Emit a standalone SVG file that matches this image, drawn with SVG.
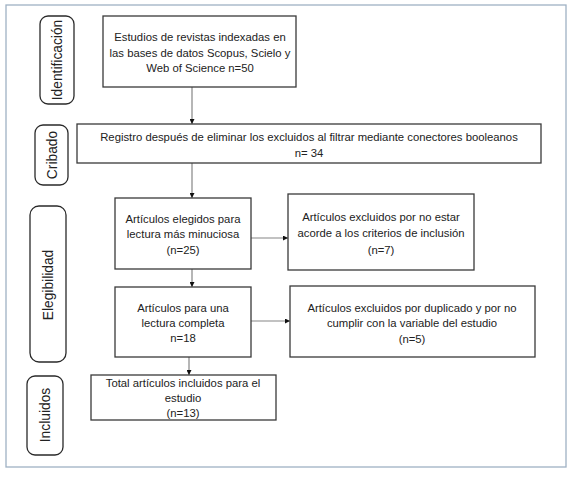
<svg xmlns="http://www.w3.org/2000/svg" width="571" height="482" viewBox="0 0 571 482">
<defs>
<style>
.box{fill:#fff;stroke:#3a3a3a;stroke-width:1.3}
.lab{fill:#fff;stroke:#2a2a2a;stroke-width:1.3}
.t{font-family:"Liberation Sans",Arial,sans-serif;font-size:11.3px;fill:#222;text-anchor:middle}
.lt{font-family:"Liberation Sans",Arial,sans-serif;font-size:13.8px;fill:#222;text-anchor:middle}
.c{stroke:#858585;stroke-width:1.2;fill:none;marker-end:url(#ah)}
</style>
<marker id="ah" viewBox="0 0 10 10" refX="10" refY="5" markerWidth="5" markerHeight="5" orient="auto" markerUnits="userSpaceOnUse">
<path d="M0,0 L10,5 L0,10 z" fill="#111"/>
</marker>
</defs>
<rect x="0" y="0" width="571" height="482" fill="#fff"/>
<rect x="6" y="5" width="560" height="462" fill="#fff" stroke="#9fb1c4" stroke-width="1.3"/>

<g id="label-identificacion">
<rect class="lab" x="40" y="16" width="34" height="88" rx="8"/>
<text class="lt" transform="translate(61.5,60) rotate(-90)">Identificación</text>
</g>
<g id="label-cribado">
<rect class="lab" x="35" y="125" width="33" height="60" rx="8"/>
<text class="lt" transform="translate(56.5,155) rotate(-90)">Cribado</text>
</g>
<g id="label-elegibilidad">
<rect class="lab" x="30" y="206" width="36" height="156" rx="9"/>
<text class="lt" transform="translate(53,285) rotate(-90)">Elegibilidad</text>
</g>
<g id="label-incluidos">
<rect class="lab" x="27" y="376" width="36" height="79" rx="8"/>
<text class="lt" transform="translate(50,415) rotate(-90)">Incluidos</text>
</g>

<g id="connectors">
<line class="c" x1="192" y1="87" x2="192" y2="124"/>
<line class="c" x1="192" y1="163" x2="192" y2="198"/>
<line class="c" x1="192" y1="269" x2="192" y2="287"/>
<line class="c" x1="251" y1="238" x2="288" y2="238"/>
<line class="c" x1="251" y1="321" x2="290" y2="321"/>
<line class="c" x1="189" y1="357" x2="189" y2="375"/>
</g>

<g id="n1">
<rect class="box" x="103" y="16" width="193" height="71"/>
<text class="t" x="200" y="41">Estudios de revistas indexadas en</text>
<text class="t" x="200" y="57">las bases de datos Scopus, Scielo y</text>
<text class="t" x="200" y="72">Web of Science n=50</text>
</g>
<g id="n2">
<rect class="box" x="77" y="124" width="464" height="39"/>
<text class="t" x="309" y="141">Registro después de eliminar los excluidos al filtrar mediante conectores booleanos</text>
<text class="t" x="309" y="157">n= 34</text>
</g>
<g id="n3">
<rect class="box" x="115" y="198" width="136" height="71"/>
<text class="t" x="183" y="223">Artículos elegidos para</text>
<text class="t" x="183" y="238">lectura más minuciosa</text>
<text class="t" x="183" y="254">(n=25)</text>
</g>
<g id="n4">
<rect class="box" x="288" y="194" width="186" height="76"/>
<text class="t" x="381" y="221">Artículos excluidos por no estar</text>
<text class="t" x="381" y="237">acorde a los criterios de inclusión</text>
<text class="t" x="381" y="254">(n=7)</text>
</g>
<g id="n5">
<rect class="box" x="115" y="287" width="136" height="70"/>
<text class="t" x="183" y="312">Artículos para una</text>
<text class="t" x="183" y="327">lectura completa</text>
<text class="t" x="183" y="342">n=18</text>
</g>
<g id="n6">
<rect class="box" x="290" y="286" width="245" height="71"/>
<text class="t" x="412" y="312">Artículos excluidos por duplicado y por no</text>
<text class="t" x="412" y="327">cumplir con la variable del estudio</text>
<text class="t" x="412" y="343">(n=5)</text>
</g>
<g id="n7">
<rect class="box" x="91" y="375" width="185" height="45"/>
<text class="t" x="183" y="387">Total artículos incluidos para el</text>
<text class="t" x="183" y="402">estudio</text>
<text class="t" x="183" y="417">(n=13)</text>
</g>
</svg>
